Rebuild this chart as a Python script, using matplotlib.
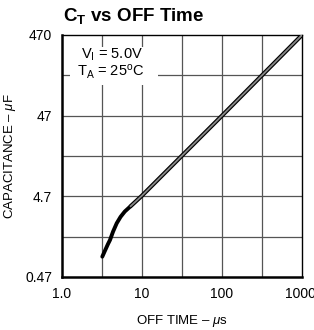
import matplotlib
matplotlib.use("Agg")
import matplotlib.pyplot as plt
from matplotlib.patches import Rectangle
import matplotlib.transforms as mtransforms

# Data
t_curve = [3.19, 3.45, 3.75, 3.98, 4.35, 4.83, 5.4, 6.1, 7.08]   # OFF time (us), curved segment
c_curve = [0.84, 1.0, 1.2, 1.35, 1.72, 2.18, 2.62, 3.05, 3.49]   # capacitance (uF)
t_line = [7.08, 9.9, 100, 1000]                                  # straight segment
c_line = [3.49, 4.75, 47, 470]

x_ticks = [1.0, 10, 100, 1000]
x_labels = ["1.0", "10", "100", "1000"]
y_ticks = [0.47, 4.7, 47, 470]
y_labels = ["0.47", "4.7", "47", "470"]
x_grid = [10**0.5, 10, 10**1.5, 100, 10**2.5]
y_grid = [0.47 * 10**0.5, 4.7, 4.7 * 10**0.5, 47, 47 * 10**0.5]

FONT = ['Liberation Sans', 'DejaVu Sans']
plt.rcParams['font.family'] = FONT
plt.rcParams['mathtext.fontset'] = 'custom'
plt.rcParams['mathtext.rm'] = 'Liberation Sans'
plt.rcParams['mathtext.it'] = 'Liberation Sans:italic'

fig = plt.figure(figsize=(3.14, 3.30), dpi=100)
ax = fig.add_axes([62/314, 53/330, 240/314, 242/330])
ax.set_xscale('log')
ax.set_yscale('log')
ax.set_xlim(1, 1000)
ax.set_ylim(0.47, 470)

for xg in x_grid:
    ax.axvline(xg, color='#555555', lw=0.9, zorder=1)
for yg in y_grid:
    ax.axhline(yg, color='#555555', lw=0.9, zorder=1)

ax.plot(t_curve, c_curve, color='black', lw=2.8, solid_capstyle='round',
        solid_joinstyle='round', zorder=3)
ax.plot(t_line, c_line, color='black', lw=3.0, solid_capstyle='butt', zorder=3)
ax.plot(t_line, c_line, color='#888888', lw=1.3, solid_capstyle='butt', zorder=4)

ax.set_xticks(x_ticks)
ax.set_xticklabels(x_labels)
ax.set_yticks(y_ticks)
ax.set_yticklabels(y_labels)
ax.minorticks_off()
ax.tick_params(length=0, labelsize=10, pad=7)
last = ax.get_xticklabels()[-1]
last.set_transform(last.get_transform() +
                   mtransforms.ScaledTranslation(-2/100, 0, fig.dpi_scale_trans))

for s in ['left', 'bottom']:
    ax.spines[s].set_linewidth(1.8)
for s in ['top', 'right']:
    ax.spines[s].set_linewidth(1.0)

ax.set_xlabel('OFF TIME \u2013 $\\mathit{\\mu}$s', fontsize=9.5, labelpad=9)
ax.set_ylabel('CAPACITANCE \u2013 $\\mathit{\\mu}$F', fontsize=9.5)
ax.yaxis.set_label_coords(-(62 - 18) / 240, 0.5)

# white patch behind the condition text
ax.add_patch(Rectangle(((70 - 62) / 240, (277 - 85) / 242), 88 / 240, 38 / 242,
                       transform=ax.transAxes, facecolor='white', edgecolor='none', zorder=2))
ax.text((112 - 62) / 240, (277 - 55) / 242, 'V$_\\mathregular{I}$ = 5.0V',
        transform=ax.transAxes, ha='center', va='center', fontsize=10.5, zorder=5)
ax.text((111 - 62) / 240, (277 - 72) / 242, 'T$_\\mathregular{A}$ = 25$^\\mathregular{o}$C',
        transform=ax.transAxes, ha='center', va='center', fontsize=10.5, zorder=5)

fig.text(63/314, 1 - 16/330, 'C$_\\mathregular{T}$ vs OFF Time', fontsize=13.5,
         fontweight='bold', ha='left', va='center')

fig.savefig('out.png', dpi=100)
